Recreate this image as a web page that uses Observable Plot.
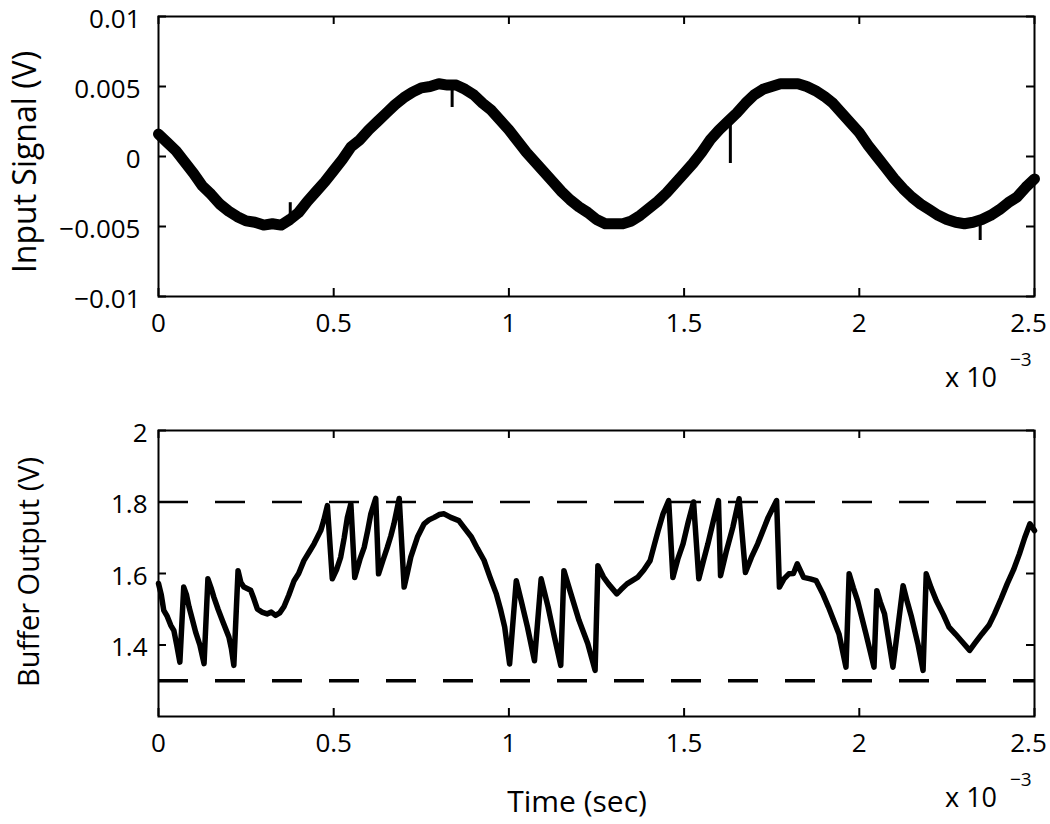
<!DOCTYPE html>
<html><head><meta charset="utf-8">
<script src="https://cdn.jsdelivr.net/npm/d3@7"></script>
<script src="https://cdn.jsdelivr.net/npm/@observablehq/plot@0.6"></script>
<style>
body{margin:0;background:#fff;}
#wrap{position:relative;width:1050px;height:824px;font-family:"Open Sans",sans-serif;color:#000;overflow:hidden;background:#fff}
.abs{position:absolute;white-space:nowrap;line-height:1}
.panel{position:absolute;left:0}
</style></head><body><div id="wrap"></div>
<script>
// ---- tick labels ----
const xTicks = [0, 0.5, 1, 1.5, 2, 2.5];
const topYTicks = [-0.01, -0.005, 0, 0.005, 0.01];
const botYTicks = [1.4, 1.6, 1.8, 2];
const thresholds = [1.8, 1.3];

// ---- top panel: input signal (time in units of 1e-3 s), sampled every 0.025 ----
const topStep = 0.025;
const topV = [
 0.0016, 0.0010, 0.0004,-0.0004,-0.0012,-0.0021,-0.0027,-0.0034,-0.0039,-0.0043,
-0.0046,-0.0047,-0.0049,-0.0048,-0.0049,-0.0045,-0.0040,-0.0032,-0.0025,-0.0018,
-0.0010,-0.0002, 0.0007, 0.0012, 0.0019, 0.0025, 0.0031, 0.0037, 0.0042, 0.0046,
 0.0049, 0.0050, 0.0052, 0.0051, 0.0051, 0.0048, 0.0044, 0.0038, 0.0033, 0.0026,
 0.0019, 0.0011, 0.0003,-0.0004,-0.0011,-0.0018,-0.0025,-0.0031,-0.0036,-0.0040,
-0.0045,-0.0048,-0.0048,-0.0048,-0.0046,-0.0042,-0.0037,-0.0032,-0.0026,-0.0019,
-0.0012,-0.0005, 0.0003, 0.0012, 0.0019, 0.0025, 0.0031, 0.0038, 0.0044, 0.0048,
 0.0050, 0.0052, 0.0052, 0.0052, 0.0050, 0.0047, 0.0043, 0.0038, 0.0031, 0.0024,
 0.0017, 0.0008, 0.0000,-0.0008,-0.0016,-0.0023,-0.0029,-0.0034,-0.0038,-0.0042,
-0.0045,-0.0047,-0.0048,-0.0047,-0.0045,-0.0042,-0.0038,-0.0033,-0.0029,-0.0022,
-0.0016
];
// isolated glitches in the input trace
const spikeT    = [0.376, 0.838, 1.632, 2.345];
const spikeFrom = [-0.0048, 0.0051, 0.0027, -0.0045];
const spikeTo   = [-0.0033, 0.0035, -0.0005, -0.0060];

// ---- bottom panel: buffer output ----
const botT = [
0.000,0.008,0.015,0.025,0.035,0.044,0.052,0.061,0.072,0.080,0.087,0.097,0.106,0.118,0.130,
0.141,0.150,0.158,0.170,0.182,0.201,0.208,0.215,0.227,0.235,0.244,0.263,0.272,0.282,0.295,
0.310,0.322,0.334,0.346,0.358,0.372,0.387,0.400,0.415,0.430,0.444,0.463,0.472,0.482,0.496,
0.508,0.520,0.530,0.539,0.549,0.560,0.575,0.587,0.597,0.606,0.620,0.628,0.640,0.653,0.663,
0.672,0.687,0.701,0.710,0.720,0.739,0.758,0.772,0.787,0.801,0.815,0.834,0.857,0.875,0.893,
0.910,0.929,0.946,0.964,0.976,0.988,1.002,1.021,1.035,1.053,1.073,1.092,1.112,1.130,1.148,
1.157,1.177,1.200,1.225,1.246,1.254,1.270,1.284,1.308,1.320,1.337,1.367,1.385,1.403,1.415,
1.426,1.440,1.456,1.468,1.482,1.497,1.512,1.527,1.542,1.555,1.568,1.583,1.598,1.604,1.620,
1.639,1.657,1.675,1.692,1.710,1.740,1.764,1.772,1.785,1.799,1.812,1.823,1.841,1.860,1.877,
1.895,1.912,1.942,1.962,1.971,1.983,1.995,2.019,2.042,2.050,2.060,2.072,2.096,2.125,2.137,
2.149,2.167,2.182,2.191,2.205,2.220,2.240,2.256,2.275,2.291,2.315,2.330,2.350,2.370,2.386,
2.405,2.422,2.440,2.457,2.472,2.487,2.500
];
const botV = [
1.572,1.540,1.497,1.480,1.455,1.440,1.400,1.352,1.562,1.540,1.507,1.470,1.436,1.400,1.348,
1.585,1.560,1.534,1.500,1.469,1.422,1.390,1.343,1.608,1.575,1.562,1.553,1.530,1.501,1.492,
1.487,1.492,1.483,1.490,1.507,1.540,1.580,1.600,1.636,1.660,1.683,1.720,1.750,1.790,1.585,
1.610,1.646,1.700,1.757,1.795,1.589,1.640,1.673,1.720,1.767,1.810,1.599,1.635,1.673,1.705,
1.739,1.810,1.562,1.600,1.646,1.702,1.739,1.750,1.757,1.765,1.767,1.757,1.748,1.725,1.702,
1.670,1.637,1.590,1.543,1.500,1.450,1.347,1.580,1.524,1.450,1.356,1.585,1.506,1.422,1.343,
1.608,1.543,1.469,1.404,1.329,1.622,1.590,1.571,1.543,1.555,1.571,1.589,1.610,1.636,1.680,
1.720,1.767,1.804,1.589,1.640,1.683,1.745,1.800,1.585,1.635,1.683,1.745,1.804,1.594,1.660,
1.729,1.809,1.603,1.645,1.683,1.757,1.804,1.562,1.585,1.599,1.600,1.627,1.589,1.585,1.580,
1.545,1.506,1.431,1.338,1.599,1.560,1.524,1.431,1.338,1.552,1.520,1.487,1.338,1.566,1.520,
1.478,1.404,1.329,1.599,1.560,1.524,1.485,1.450,1.430,1.412,1.385,1.405,1.431,1.455,1.487,
1.530,1.571,1.610,1.655,1.700,1.739,1.720
];

// ---- build ----
const fmt = d => (d < 0 ? "\u2212" : "") + Math.abs(d);
const W = 1050, ML = 158, MR = 16, FRAME_BOTTOM = 296;
const xDomain = [0, 2.5];
const tickPx = 8, FS = 26;

function panel({yDomain, yTicks, height, marginTop, yPad, marks}) {
  const [y0, y1] = yDomain;
  const ph = FRAME_BOTTOM - marginTop;
  const ty = tickPx / ph * (y1 - y0);
  const tx = tickPx / (W - ML - MR) * (xDomain[1] - xDomain[0]);
  const lastX = xTicks[xTicks.length - 1];
  return Plot.plot({
    width: W, height,
    marginLeft: ML, marginRight: MR, marginTop, marginBottom: height - FRAME_BOTTOM,
    x: {domain: xDomain},
    y: {domain: yDomain},
    style: {fontFamily: '"Open Sans", sans-serif', fontSize: FS + "px", color: "#000", background: "transparent", overflow: "visible"},
    marks: [
      ...marks,
      Plot.frame({stroke: "#000", strokeWidth: 2}),
      Plot.ruleX(xTicks, {y1: y0, y2: y0 + ty, stroke: "#000", strokeWidth: 2}),
      Plot.ruleX(xTicks, {y1: y1 - ty, y2: y1, stroke: "#000", strokeWidth: 2}),
      Plot.ruleY(yTicks, {x1: xDomain[0], x2: xDomain[0] + tx, stroke: "#000", strokeWidth: 2}),
      Plot.ruleY(yTicks, {x1: xDomain[1] - tx, x2: xDomain[1], stroke: "#000", strokeWidth: 2}),
      Plot.axisX(xTicks.filter(d => d !== lastX), {anchor: "bottom", tickSize: 0, tickPadding: 17, tickFormat: fmt, label: null, fontSize: FS}),
      Plot.axisX([lastX], {anchor: "bottom", tickSize: 0, tickPadding: 17, tickFormat: fmt, label: null, fontSize: FS, dx: -6}),
      Plot.axisY(yTicks, {anchor: "left", tickSize: 0, tickPadding: yPad, tickFormat: fmt, label: null, fontSize: FS, dy: 3})
    ]
  });
}

const topData = topV.map((v, i) => ({t: i * topStep, v}));
const spikes = spikeT.map((t, i) => ({t, a: spikeFrom[i], b: spikeTo[i]}));
const botData = botT.map((t, i) => ({t, v: botV[i]}));

const topPlot = panel({
  yDomain: [-0.01, 0.01], yTicks: topYTicks, height: 420, marginTop: 16, yPad: 18,
  marks: [
    Plot.line(topData, {x: "t", y: "v", stroke: "#000", strokeWidth: 11, strokeLinejoin: "round", strokeLinecap: "round"}),
    Plot.ruleX(spikes, {x: "t", y1: "a", y2: "b", stroke: "#000", strokeWidth: 3})
  ]
});
const botPlot = panel({
  yDomain: [1.2, 2], yTicks: botYTicks, height: 404, marginTop: 10, yPad: 11,
  marks: [
    Plot.ruleY(thresholds, {stroke: "#000", strokeWidth: d => d > 1.5 ? 2.5 : 3.5, strokeDasharray: "30,27"}),
    Plot.line(botData, {x: "t", y: "v", stroke: "#000", strokeWidth: 5.5, strokeLinejoin: "round", strokeLinecap: "round"})
  ]
});

const wrap = document.getElementById("wrap");
topPlot.classList.add("panel"); topPlot.style.top = "0px";
botPlot.classList.add("panel"); botPlot.style.top = "420px";
wrap.appendChild(topPlot);
wrap.appendChild(botPlot);

function addText(txt, css) {
  const d = document.createElement("div");
  d.className = "abs";
  d.textContent = txt;
  Object.assign(d.style, css);
  wrap.appendChild(d);
  return d;
}
addText("Input Signal (V)", {left: "24px", top: "162px", fontSize: "32px", transform: "translate(-50%,-50%) rotate(-90deg)"});
addText("Buffer Output (V)", {left: "27px", top: "572px", fontSize: "29px", transform: "translate(-50%,-50%) rotate(-90deg)"});
addText("Time (sec)", {left: "577px", top: "801px", fontSize: "30px", transform: "translate(-50%,-50%)"});
for (const off of [0, 420]) {
  addText("x 10", {left: "945px", top: (783 - 420 + off) + "px", fontSize: "27px"});
  addText("\u22123", {left: "1010px", top: (770 - 420 + off) + "px", fontSize: "19px"});
}
</script></body></html>
